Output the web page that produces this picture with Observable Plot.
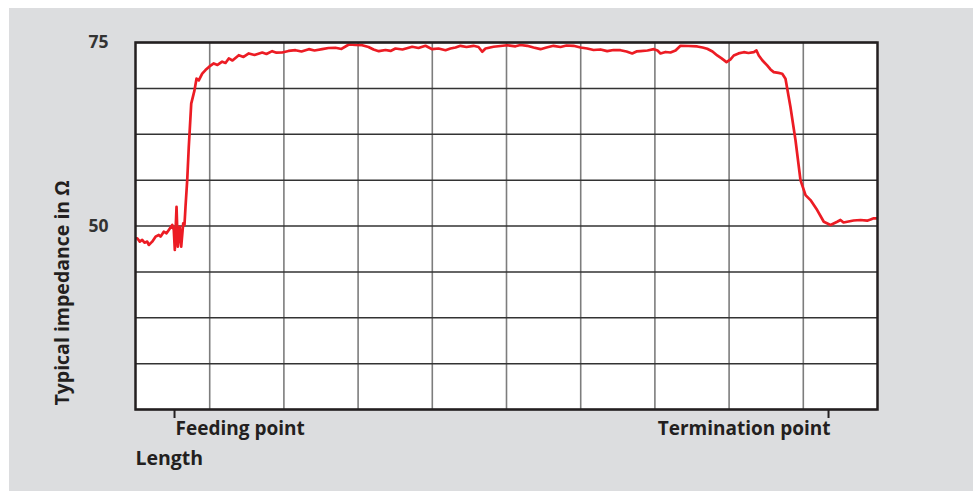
<!DOCTYPE html>
<html>
<head>
<meta charset="utf-8">
<script src="https://cdn.jsdelivr.net/npm/d3@7"></script>
<script src="https://cdn.jsdelivr.net/npm/@observablehq/plot@0.6"></script>
<style>
  html, body { margin: 0; padding: 0; background: #ffffff; }
  #wrap { position: relative; width: 979px; height: 491px; overflow: hidden; }
  #panel { position: absolute; left: 9px; top: 8px; width: 964px; height: 483px; background: #dcdddf; }
  #chart { position: absolute; left: 0; top: 0; }
  #chart svg { background: transparent !important; }
</style>
</head>
<body>
<div id="wrap"><div id="panel"></div><div id="chart"></div></div>
<script>
// Length along the cable (grid divisions 0..10)
const lengthPos = [
  0.013, 0.023, 0.058, 0.090, 0.121, 0.158, 0.179, 0.225, 0.270, 0.314,
  0.337, 0.381, 0.418, 0.449, 0.495, 0.516, 0.530, 0.553, 0.570, 0.597,
  0.616, 0.643, 0.660, 0.674, 0.697, 0.718, 0.751, 0.795, 0.822, 0.853,
  0.899, 0.943, 0.997, 1.055, 1.105, 1.168, 1.213, 1.257, 1.307, 1.392,
  1.456, 1.527, 1.604, 1.708, 1.765, 1.842, 1.900, 1.977, 2.062, 2.156,
  2.237, 2.336, 2.412, 2.516, 2.601, 2.695, 2.776, 2.875, 2.965, 3.055,
  3.140, 3.208, 3.279, 3.369, 3.437, 3.504, 3.598, 3.729, 3.814, 3.908,
  3.999, 4.084, 4.178, 4.245, 4.313, 4.380, 4.461, 4.555, 4.623, 4.673,
  4.717, 4.825, 4.919, 5.009, 5.121, 5.189, 5.279, 5.364, 5.458, 5.539,
  5.633, 5.728, 5.809, 5.903, 5.997, 6.088, 6.173, 6.267, 6.357, 6.442,
  6.536, 6.617, 6.694, 6.752, 6.806, 6.900, 6.985, 7.035, 7.075, 7.143,
  7.210, 7.278, 7.345, 7.453, 7.570, 7.642, 7.705, 7.776, 7.840, 7.899,
  7.965, 8.019, 8.063, 8.127, 8.198, 8.261, 8.333, 8.369, 8.400, 8.450,
  8.513, 8.558, 8.602, 8.666, 8.716, 8.760, 8.827, 8.895, 8.962, 9.030,
  9.097, 9.187, 9.276, 9.367, 9.457, 9.501, 9.542, 9.592, 9.677, 9.771,
  9.861, 9.906, 9.950, 9.987
];
// Typical impedance in Ω
const impedance = [
  48.33, 48.33, 47.87, 48.10, 47.73, 47.87, 47.42, 47.87, 48.55, 48.78,
  48.55, 49.23, 49.01, 49.46, 50.14, 49.46, 46.74, 52.62, 47.19, 49.90,
  47.19, 50.37, 50.14, 52.62, 56.25, 60.77, 66.67, 68.48, 70.07, 69.84,
  70.75, 71.24, 71.74, 72.15, 71.94, 72.38, 72.21, 72.83, 72.55, 73.27,
  73.03, 73.51, 73.30, 73.64, 73.44, 73.82, 73.61, 73.64, 73.85, 73.95,
  73.78, 74.09, 73.91, 74.09, 74.25, 74.28, 74.12, 74.73, 74.66, 74.63,
  74.39, 74.05, 73.82, 73.98, 73.85, 74.18, 74.05, 74.42, 74.25, 74.55,
  74.09, 74.18, 73.95, 74.18, 74.32, 74.55, 74.39, 74.55, 74.39, 73.74,
  74.18, 74.42, 74.52, 74.63, 74.48, 74.66, 74.55, 74.32, 74.09, 74.32,
  74.55, 74.39, 74.59, 74.55, 74.32, 74.18, 73.98, 74.05, 73.82, 73.98,
  73.95, 73.78, 73.51, 73.78, 73.82, 73.91, 74.09, 73.91, 73.51, 73.71,
  73.64, 73.91, 74.55, 74.52, 74.46, 74.32, 74.14, 73.78, 73.23, 72.83,
  72.32, 72.69, 73.23, 73.51, 73.68, 73.57, 73.68, 73.91, 73.23, 72.55,
  71.88, 71.33, 70.96, 70.86, 70.75, 70.07, 66.21, 61.68, 56.25, 54.21,
  53.53, 52.17, 50.58, 50.14, 50.58, 50.82, 50.48, 50.58, 50.75, 50.82,
  50.72, 50.88, 51.05, 51.05
];
const yTickValues = [50, 75];
const yGrid = [25, 31.25, 37.5, 43.75, 50, 56.25, 62.5, 68.75, 75];
const xGrid = [1, 2, 3, 4, 5, 6, 7, 8, 9];
const markerPos = [0.526, 9.34];
const markerLabels = ["Feeding point", "Termination point"];
const markerAnchors = ["start", "end"];

const series = lengthPos.map((x, i) => ({x, v: impedance[i]}));
const markers = markerPos.map((x, i) => ({x, label: markerLabels[i], anchor: markerAnchors[i]}));

const font = "'Open Sans', 'DejaVu Sans', sans-serif";

const chart = Plot.plot({
  width: 979,
  height: 491,
  marginLeft: 135,
  marginRight: 102,
  marginTop: 42,
  marginBottom: 82,
  style: {background: "transparent", fontFamily: font},
  x: {domain: [0, 10], label: null},
  y: {domain: [25, 75], label: null},
  marks: [
    Plot.frame({fill: "white", stroke: "none"}),
    Plot.ruleX(xGrid, {stroke: "#7d7d7d", strokeWidth: 1.6}),
    Plot.ruleY(yGrid, {stroke: "#333333", strokeWidth: 1.5}),
    Plot.line(series, {x: "x", y: "v", stroke: "#ec1c24", strokeWidth: 2.7, strokeLinejoin: "round"}),
    Plot.frame({stroke: "#231f20", strokeWidth: 2.5}),
    Plot.axisY(yTickValues, {label: null, tickSize: 0, tickPadding: 27, fontSize: 17.5, fontWeight: "bold", fill: "#333333", tickFormat: d => String(d)}),
    Plot.axisX(markerPos, {label: null, tickSize: 9, tickFormat: () => "", stroke: "#231f20", strokeWidth: 2}),
    Plot.text(markers.filter(d => d.anchor === "start"), {x: "x", frameAnchor: "bottom", dy: 25, dx: 1, text: "label", textAnchor: "start", fontSize: 19, fontWeight: "bold", fill: "#231f20"}),
    Plot.text(markers.filter(d => d.anchor === "end"), {x: "x", frameAnchor: "bottom", dy: 25, dx: 2, text: "label", textAnchor: "end", fontSize: 19, fontWeight: "bold", fill: "#231f20"}),
    Plot.text(["Length"], {frameAnchor: "bottom-left", dy: 55, text: d => d, textAnchor: "start", fontSize: 19.5, fontWeight: "bold", fill: "#231f20"}),
    Plot.text(["Typical impedance in Ω"], {frameAnchor: "left", dx: -73, dy: 67, rotate: -90, text: d => d, textAnchor: "middle", fontSize: 19.5, fontWeight: "bold", fill: "#231f20"})
  ]
});
document.getElementById("chart").appendChild(chart);
</script>
</body>
</html>
